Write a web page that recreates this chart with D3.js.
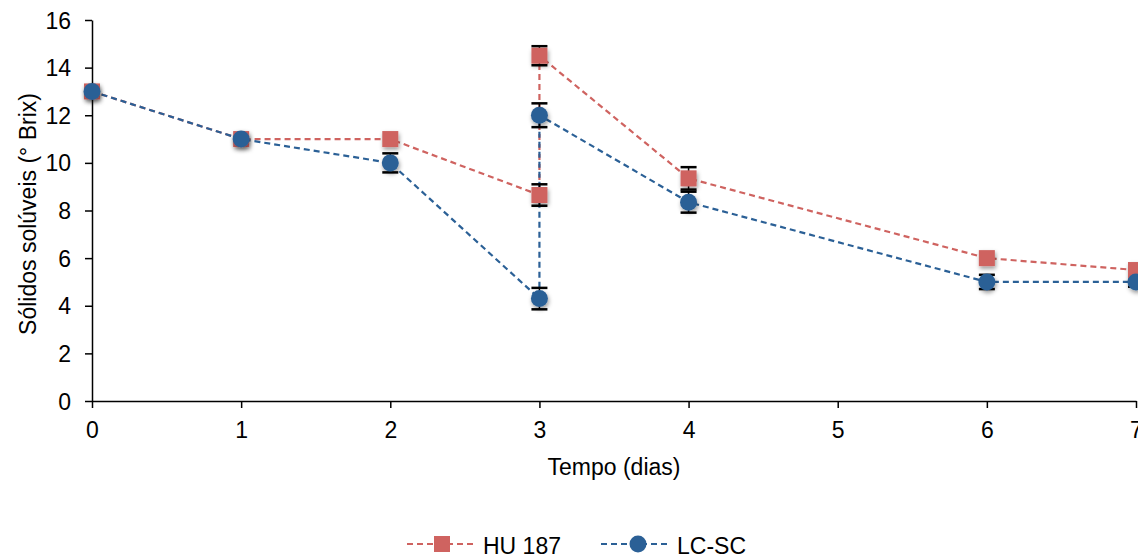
<!DOCTYPE html>
<html><head><meta charset="utf-8">
<script src="https://cdn.jsdelivr.net/npm/d3@7"></script>
<style>body{margin:0;background:#fff}svg{display:block}text{font-family:"Liberation Sans",Arial,sans-serif;fill:#000}</style>
</head><body>
<svg id="c" width="1138" height="557"></svg>
<script>
const xTicks = [0,1,2,3,4,5,6,7];
const yTicks = [0,2,4,6,8,10,12,14,16];
const huX   = [0, 1, 2, 3, 3, 4, 6, 7];
const huY   = [13, 11, 11, 8.65, 14.5, 9.35, 6.0, 5.5];
const huErr = [0, 0, 0, 0.45, 0.4, 0.47, 0, 0];
const lcX   = [0, 1, 2, 3, 3, 4, 6, 7];
const lcY   = [13, 11, 10, 4.3, 12, 8.35, 5, 5];
const lcErr = [0, 0, 0.4, 0.45, 0.5, 0.44, 0.3, 0.2];
const seriesNames = ["HU 187", "LC-SC"];
const colors = ["#CF6360", "#2B6096"];
const FS = 23;

const svg = d3.select("#c");
const x = d3.scaleLinear().domain([0,7]).range([92,1136]);
const y = d3.scaleLinear().domain([0,16]).range([401,20]);

const defs = svg.append("defs");
const f = defs.append("filter").attr("id","sh").attr("x","-50%").attr("y","-50%").attr("width","200%").attr("height","200%");
f.append("feDropShadow").attr("dx",1).attr("dy",2.5).attr("stdDeviation",2).attr("flood-color","#000").attr("flood-opacity",0.4);

// axes
const xAxis = svg.append("g").attr("transform","translate(0,401)")
  .call(d3.axisBottom(x).tickValues(xTicks).tickFormat(d3.format("d")).tickSizeInner(7).tickSizeOuter(0));
const yAxis = svg.append("g").attr("transform","translate(92,0)")
  .call(d3.axisLeft(y).tickValues(yTicks).tickFormat(d3.format("d")).tickSizeInner(7).tickSizeOuter(0));
[xAxis,yAxis].forEach(g=>{
  g.select(".domain").attr("stroke","#000").attr("stroke-width",1.5);
  g.selectAll(".tick line").attr("stroke","#000").attr("stroke-width",1.5);
  g.selectAll(".tick text").attr("font-size",FS).attr("font-family","Liberation Sans, Arial, sans-serif").attr("fill","#000");
});
xAxis.selectAll(".tick text").attr("dy",null).attr("y",37);
yAxis.selectAll(".tick text").attr("x",-21).attr("dy","0.35em");

svg.append("text").attr("x",614).attr("y",475).attr("text-anchor","middle").attr("font-size",FS).text("Tempo (dias)");
svg.append("text").attr("transform","translate(36,214) rotate(-90)").attr("text-anchor","middle").attr("font-size",FS).text("Sólidos solúveis (° Brix)");

const series = [
  {xs:huX, ys:huY, es:huErr, shape:"square", color:colors[0]},
  {xs:lcX, ys:lcY, es:lcErr, shape:"circle", color:colors[1]}
];
const line = d3.line().x(d=>x(d[0])).y(d=>y(d[1]));

function marker(g, cx, cy, shape, color, filt){
  if(shape==="square"){
    g.append("rect").attr("x",cx-8).attr("y",cy-8).attr("width",16).attr("height",16).attr("fill",color).attr("filter",filt?"url(#sh)":null);
  } else {
    g.append("circle").attr("cx",cx).attr("cy",cy).attr("r",8.5).attr("fill",color).attr("filter",filt?"url(#sh)":null);
  }
}

series.forEach(s=>{
  const pts = s.xs.map((v,i)=>[v,s.ys[i]]);
  svg.append("path").attr("d",line(pts)).attr("fill","none").attr("stroke",s.color).attr("stroke-width",2.2).attr("stroke-dasharray","6,4");
});
series.forEach(s=>{
  const g = svg.append("g");
  s.xs.forEach((v,i)=>{
    const e = s.es[i];
    if(e>0){
      const cx=x(v), t=y(s.ys[i]+e), b=y(s.ys[i]-e);
      g.append("line").attr("x1",cx).attr("x2",cx).attr("y1",t).attr("y2",b).attr("stroke","#000").attr("stroke-width",1.5);
      [t,b].forEach(yy=>g.append("line").attr("x1",cx-8).attr("x2",cx+8).attr("y1",yy).attr("y2",yy).attr("stroke","#000").attr("stroke-width",2.5));
    }
  });
});
series.forEach(s=>{
  const g = svg.append("g");
  s.xs.forEach((v,i)=>marker(g, x(v), y(s.ys[i]), s.shape, s.color, true));
});

// legend
const leg = [{x0:407,x1:477,mx:442,tx:483},{x0:601,x1:670,mx:638,tx:677}];
leg.forEach((l,i)=>{
  const ly=544;
  svg.append("line").attr("x1",l.x0).attr("x2",l.x1).attr("y1",ly).attr("y2",ly).attr("stroke",colors[i]).attr("stroke-width",2.2).attr("stroke-dasharray","6,4");
  marker(svg, l.mx, ly, series[i].shape, colors[i], false);
  svg.append("text").attr("x",l.tx).attr("y",554).attr("font-size",FS).text(seriesNames[i]);
});
</script>
</body></html>
